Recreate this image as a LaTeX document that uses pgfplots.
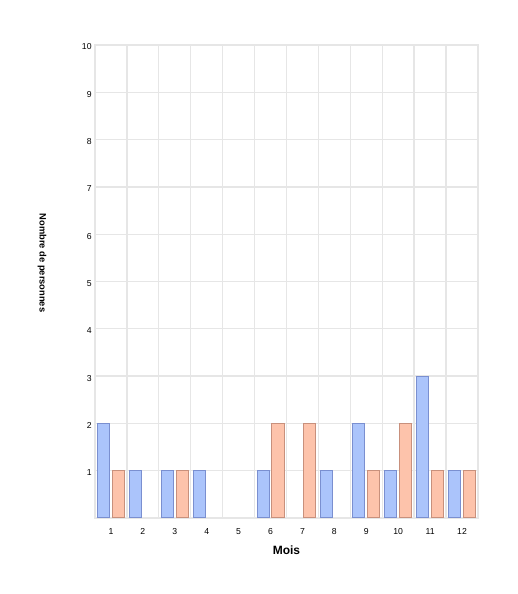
\documentclass[border=0pt]{standalone}
\usepackage{pgfplots}
\pgfplotsset{compat=1.18}
\usepackage{fontspec}
\setmainfont{Liberation Sans}
\definecolor{bfill}{HTML}{ABC4FB}
\definecolor{bdraw}{HTML}{7A8FD0}
\definecolor{ofill}{HTML}{FDC3AB}
\definecolor{odraw}{HTML}{C8907C}
\definecolor{gridc}{HTML}{E6E6E6}
\begin{document}
\begin{tikzpicture}
\path[use as bounding box] (0,0) rectangle (388.5pt,445.5pt);
\begin{axis}[at={(71.25pt,57pt)}, anchor=south west, scale only axis,
  width=287.25pt, height=354.75pt,
  xmin=0, xmax=12, ymin=0, ymax=10,
  xtick={0.5,1.5,2.5,3.5,4.5,5.5,6.5,7.5,8.5,9.5,10.5,11.5},
  xticklabels={1,2,3,4,5,6,7,8,9,10,11,12},
  minor xtick={0,1,2,3,4,5,6,7,8,9,10,11,12},
  ytick={1,2,3,4,5,6,7,8,9,10},
  xminorgrids, ymajorgrids,
  major tick length=0pt, minor tick length=0pt,
  major grid style={gridc, line width=1pt},
  minor grid style={gridc, line width=1pt},
  axis line style={gridc, line width=1pt},
  /pgf/number format/assume math mode=true,
  tick label style={font=\fontsize{6.5}{7}\selectfont, black},
  yticklabel style={xshift=1pt, yshift=-1.5pt},
  xticklabel style={yshift=-4pt},
  xlabel={Mois}, ylabel={Nombre de personnes},
  xlabel style={at={(axis description cs:0.5,-0.068)}, anchor=center, font=\fontsize{9}{10}\selectfont\bfseries},
  ylabel style={at={(axis description cs:-0.138,0.539)}, anchor=center, rotate=180, font=\fontsize{7}{8}\selectfont\bfseries},
  ybar, bar width=0.38,
]
\addplot[ybar, bar shift=-0.234, fill=bfill, draw=bdraw, line width=0.75pt] coordinates {
  (0.5,2) (1.5,1) (2.5,1) (3.5,1) (5.5,1) (7.5,1) (8.5,2) (9.5,1) (10.5,3) (11.5,1)};
\addplot[ybar, bar shift=0.234, fill=ofill, draw=odraw, line width=0.75pt] coordinates {
  (0.5,1) (2.5,1) (5.5,2) (6.5,2) (8.5,1) (9.5,2) (10.5,1) (11.5,1)};
\end{axis}
\end{tikzpicture}
\end{document}
